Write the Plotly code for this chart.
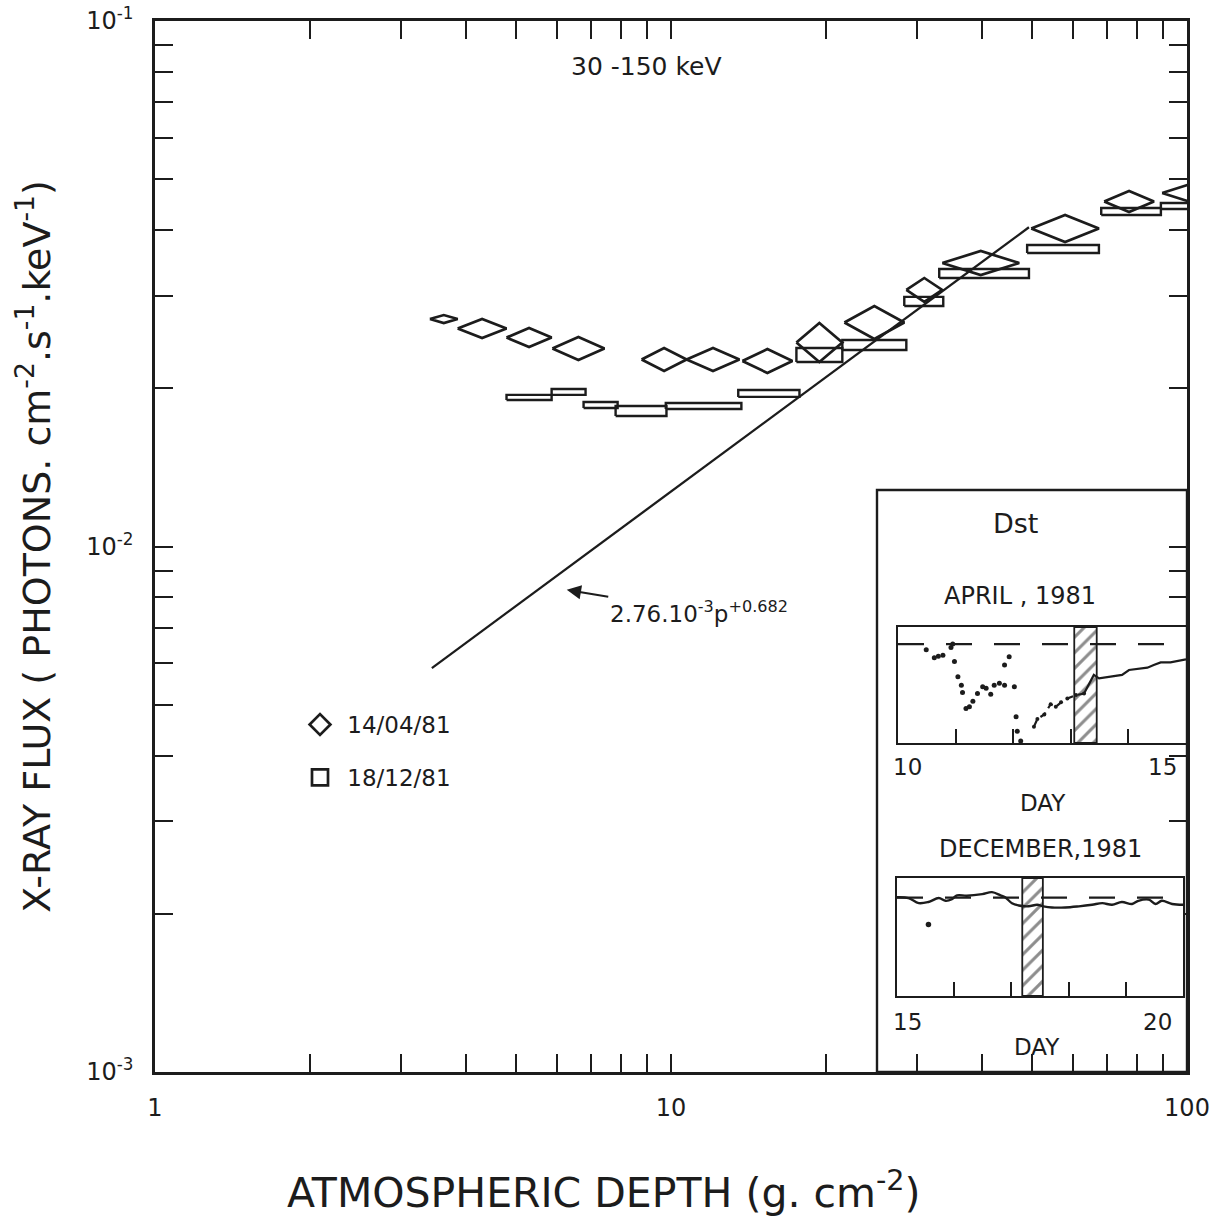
import math
import plotly.graph_objects as go

# ---------------- data ----------------
# 14/04/81 flight : depth bins (g cm-2) and flux envelope (photons cm-2 s-1 keV-1)
apr_depth_lo = [3.41, 3.86, 4.80, 5.89, 8.77, 10.72, 13.75, 17.50, 21.68, 28.58, 33.55, 49.9, 69.1, 89.5]
apr_depth_hi = [3.86, 4.80, 5.87, 7.43, 10.72, 13.57, 17.19, 21.48, 28.32, 33.55, 47.3, 67.5, 86.3, 112.0]
apr_flux_hi = [0.02757, 0.02710, 0.02605, 0.02504, 0.02386, 0.02386, 0.02375, 0.02662, 0.02869, 0.03243, 0.03650, 0.04274, 0.04747, 0.04873]
apr_flux_lo = [0.02662, 0.02493, 0.02396, 0.02264, 0.02158, 0.02158, 0.02139, 0.02245, 0.02482, 0.02920, 0.03286, 0.03798, 0.04330, 0.04545]

# 18/12/81 flight
dec_depth_lo = [4.80, 5.87, 6.77, 7.81, 9.77, 13.5, 17.50, 21.48, 28.32, 33.1, 49.0, 68.2, 89.0]
dec_depth_hi = [5.87, 6.83, 7.88, 9.80, 13.69, 17.74, 21.48, 28.58, 33.7, 49.4, 67.5, 89.0, 112.0]
dec_flux_hi = [0.01943, 0.01994, 0.01884, 0.01851, 0.01875, 0.01985, 0.02386, 0.02471, 0.02985, 0.03374, 0.03747, 0.04406, 0.04505]
dec_flux_lo = [0.01900, 0.01943, 0.01835, 0.01771, 0.01827, 0.01926, 0.02245, 0.02365, 0.02869, 0.03243, 0.03618, 0.04274, 0.04387]

# fitted power law 2.76e-3 p^0.682 (end points as drawn)
fit_depth = [3.44, 49.4]
fit_flux = [5.87e-3, 0.0405]

# Dst, April 1981 (day of month, nT)
apr_main_day = [10.49, 10.63, 10.70, 10.78, 10.92, 10.95, 10.98, 11.04, 11.10, 11.12, 11.18, 11.24, 11.30, 11.38,
                11.47, 11.53, 11.61, 11.67, 11.76, 11.85, 11.85, 11.93, 12.02, 12.05, 12.07, 12.13, 12.19, 12.22,
                12.24, 12.27]
apr_main_dst = [-15, -36, -32, -29, -9, 0, -46, -86, -108, -127, -169, -165, -150, -130,
                -112, -116, -132, -108, -103, -108, -55, -33, -112, -191, -229, -255, -283, -309,
                -340, -265]
apr_rec1_day = [12.36, 12.42, 12.54, 12.65, 12.74, 12.83, 12.94, 13.09, 13.23]
apr_rec1_dst = [-217, -197, -185, -158, -165, -153, -143, -134, -130]
apr_rec2_day = [13.23, 13.32, 13.40, 13.49, 13.69, 13.89, 14.01, 14.15, 14.33, 14.44, 14.56, 14.73, 14.93, 15.0]
apr_rec2_dst = [-130, -103, -81, -90, -86, -81, -68, -66, -62, -55, -48, -48, -42, -40]
apr_band = [13.06, 13.45]
apr_range = [-260, 45]

# Dst, December 1981
dec_day = [15.0, 15.2, 15.38, 15.55, 15.73, 15.85, 15.96, 16.05, 16.22, 16.49, 16.66, 16.81, 16.89, 17.01,
           17.13, 17.3, 17.45, 17.56, 17.71, 17.94, 18.18, 18.41, 18.59, 18.76, 18.93, 19.11, 19.22, 19.4,
           19.52, 19.63, 19.81, 20.0]
dec_dst = [1, -1, -14, -11, -1, -8, -4, 6, 5, 9, 14, 6, 1, -14,
           -20, -22, -18, -22, -25, -25, -22, -18, -14, -18, -11, -16, -8, -5,
           -16, -8, -16, -18]
dec_spike_day = [15.55]
dec_spike_dst = [-68]
dec_band = [17.19, 17.55]
dec_range = [-250, 50]

x_tickvals = [1, 10, 100]
x_ticktext = ["1", "10", "100"]
y_tickvals = [1e-3, 1e-2, 1e-1]
y_ticktext = ["10<sup>-3</sup>", "10<sup>-2</sup>", "10<sup>-1</sup>"]

# ---------------- figure ----------------
INK = "#1c1c1c"
FONT = "DejaVu Sans"
W, H = 1225, 1220
PL, PR, PT, PB = 155, 1187, 21, 1072      # plot box in page pixels
L, T = PL, PT
R, B = W - PR, H - PB
PW, PH = PR - PL, PB - PT


def px_x(p):
    return (p - PL) / PW


def px_y(p):
    return (PB - p) / PH


def diamonds(lo, hi, flo, fhi):
    xs, ys = [], []
    for a, b, c, d in zip(lo, hi, flo, fhi):
        m = math.sqrt(a * b)
        cy = math.sqrt(c * d)
        xs += [a, m, b, m, a, None]
        ys += [cy, d, cy, c, cy, None]
    return xs, ys


def boxes(lo, hi, flo, fhi):
    xs, ys = [], []
    for a, b, c, d in zip(lo, hi, flo, fhi):
        xs += [a, b, b, a, a, None]
        ys += [c, c, d, d, c, None]
    return xs, ys


fig = go.Figure()

dx, dy = diamonds(apr_depth_lo, apr_depth_hi, apr_flux_lo, apr_flux_hi)
fig.add_trace(go.Scatter(x=dx, y=dy, mode="lines", line=dict(color=INK, width=2.7),
                         showlegend=False, hoverinfo="skip"))
bx, by = boxes(dec_depth_lo, dec_depth_hi, dec_flux_lo, dec_flux_hi)
fig.add_trace(go.Scatter(x=bx, y=by, mode="lines", line=dict(color=INK, width=2.4),
                         showlegend=False, hoverinfo="skip"))
fig.add_trace(go.Scatter(x=fit_depth, y=fit_flux, mode="lines", line=dict(color=INK, width=2.3),
                         showlegend=False))

# legend entries
fig.add_trace(go.Scatter(x=[None], y=[None], mode="markers", name="\u00a014/04/81", legendgroup="a",
                         marker=dict(symbol="diamond-open", size=16, color=INK, line=dict(width=2.7, color=INK))))
fig.add_trace(go.Scatter(x=[None], y=[None], mode="markers", name="\u00a018/12/81", legendgroup="b",
                         marker=dict(symbol="square-open", size=16, color=INK, line=dict(width=2.7, color=INK))))


def band_trace(band, yr, xa, ya):
    return go.Scatter(x=[band[0], band[1], band[1], band[0], band[0]],
                      y=[yr[0], yr[0], yr[1], yr[1], yr[0]],
                      xaxis=xa, yaxis=ya, mode="lines", fill="toself",
                      fillcolor="white",
                      fillpattern=dict(shape="/", fgcolor=INK, bgcolor="white", size=11, solidity=0.28),
                      line=dict(color=INK, width=1.8), showlegend=False, hoverinfo="skip")


# April panel
fig.add_trace(band_trace(apr_band, apr_range, "x2", "y2"))
fig.add_trace(go.Scatter(x=[10, 15], y=[0, 0], xaxis="x2", yaxis="y2", mode="lines",
                         line=dict(color=INK, width=2.2, dash="26px,22px"), showlegend=False))
fig.add_trace(go.Scatter(x=apr_main_day, y=apr_main_dst, xaxis="x2", yaxis="y2", mode="markers",
                         marker=dict(color=INK, size=5), cliponaxis=False, showlegend=False))
fig.add_trace(go.Scatter(x=apr_rec1_day, y=apr_rec1_dst, xaxis="x2", yaxis="y2", mode="lines+markers",
                         line=dict(color=INK, width=2.2, dash="7px,5px"), marker=dict(color=INK, size=4),
                         showlegend=False))
fig.add_trace(go.Scatter(x=apr_rec2_day, y=apr_rec2_dst, xaxis="x2", yaxis="y2", mode="lines",
                         line=dict(color=INK, width=2.2), showlegend=False))

# December panel
fig.add_trace(band_trace(dec_band, dec_range, "x3", "y3"))
fig.add_trace(go.Scatter(x=[15, 20], y=[0, 0], xaxis="x3", yaxis="y3", mode="lines",
                         line=dict(color=INK, width=2.2, dash="26px,22px"), showlegend=False))
fig.add_trace(go.Scatter(x=dec_day, y=dec_dst, xaxis="x3", yaxis="y3", mode="lines",
                         line=dict(color=INK, width=2.4, shape="spline"), showlegend=False))
fig.add_trace(go.Scatter(x=dec_spike_day, y=dec_spike_dst, xaxis="x3", yaxis="y3", mode="markers",
                         marker=dict(color=INK, size=5.5), showlegend=False))

minor_x = [2, 3, 4, 5, 6, 7, 8, 9, 20, 30, 40, 50, 60, 70, 80, 90]
minor_y = [2e-3, 3e-3, 4e-3, 5e-3, 6e-3, 7e-3, 8e-3, 9e-3, 2e-2, 3e-2, 4e-2, 5e-2, 6e-2, 7e-2, 8e-2, 9e-2]

axis_common = dict(showgrid=False, zeroline=False, showline=True, linecolor=INK, linewidth=2.5,
                   ticks="inside", ticklen=18, tickwidth=2.2, tickcolor=INK, mirror="allticks",
                   ticklabeloverflow="allow", automargin=False,
                   tickfont=dict(family=FONT, size=24, color=INK))

panel_x = dict(showgrid=False, zeroline=False, showline=True, mirror=True, linecolor=INK, linewidth=2.2,
               ticks="inside", ticklen=14, tickwidth=2.2, tickcolor=INK, tickmode="array",
               showticklabels=False, automargin=False)
panel_y = dict(showgrid=False, zeroline=False, showline=True, mirror=True, linecolor=INK, linewidth=2.2,
               ticks="", showticklabels=False, automargin=False)

fig.update_layout(
    width=W, height=H,
    margin=dict(l=L, r=R, t=T, b=B, autoexpand=False),
    paper_bgcolor="white", plot_bgcolor="white",
    font=dict(family=FONT, color=INK),
    xaxis=dict(type="log", range=[0, 2], tickmode="array", tickvals=x_tickvals, ticktext=x_ticktext,
               ticklabelstandoff=12,
               minor=dict(tickmode="array", tickvals=minor_x, ticks="inside", ticklen=18, tickwidth=2.2,
                          tickcolor=INK),
               **axis_common),
    yaxis=dict(type="log", range=[-3, -1], tickmode="array", tickvals=y_tickvals, ticktext=y_ticktext,
               ticklabelstandoff=14,
               title=dict(text="X-RAY FLUX ( PHOTONS. cm<sup>-2</sup>.s<sup>-1</sup>.keV<sup>-1</sup>)",
                          font=dict(family=FONT, size=38, color=INK), standoff=24),
               minor=dict(tickmode="array", tickvals=minor_y, ticks="inside", ticklen=18, tickwidth=2.2,
                          tickcolor=INK),
               **axis_common),
    xaxis2=dict(domain=[px_x(898), px_x(1186)], range=[10, 15], anchor="y2", tickvals=[11, 12, 13, 14],
                **panel_x),
    yaxis2=dict(domain=[px_y(743), px_y(627)], range=apr_range, anchor="x2", **panel_y),
    xaxis3=dict(domain=[px_x(897), px_x(1183)], range=[15, 20], anchor="y3", tickvals=[16, 17, 18, 19],
                **panel_x),
    yaxis3=dict(domain=[px_y(996), px_y(878)], range=dec_range, anchor="x3", **panel_y),
    legend=dict(x=px_x(300), y=px_y(703), xanchor="left", yanchor="top", bgcolor="rgba(0,0,0,0)",
                font=dict(family=FONT, size=23, color=INK), tracegroupgap=20, itemsizing="trace"),
    showlegend=True,
)

# inset frame
fig.add_shape(type="rect", xref="paper", yref="paper", x0=px_x(877), x1=1.0, y0=0, y1=px_y(490),
              line=dict(color=INK, width=2.4), layer="above")

texts = [
    ("30 -150 keV", 646, 66, 25),
    ("Dst", 1015, 523, 27),
    ("APRIL , 1981", 1020, 596, 24),
    ("10", 907, 767, 23),
    ("15", 1162, 767, 23),
    ("DAY", 1043, 803, 23),
    ("DECEMBER,1981", 1040, 849, 24),
    ("15", 907, 1022, 23),
    ("20", 1157, 1022, 23),
    ("DAY", 1037, 1047, 23),
]
for t, x, y, s in texts:
    fig.add_annotation(text=t, xref="paper", yref="paper", x=px_x(x), y=px_y(y), showarrow=False,
                       xanchor="center", yanchor="middle", font=dict(family=FONT, size=s, color=INK))

# x-axis title
fig.add_annotation(text="ATMOSPHERIC DEPTH (g. cm<sup>-2</sup>)", xref="paper", yref="paper",
                   x=px_x(604), y=px_y(1190), showarrow=False, xanchor="center", yanchor="middle",
                   font=dict(family=FONT, size=41, color=INK))

# power-law label with arrow
fig.add_annotation(text="2.76.10<sup>-3</sup>p<sup>+0.682</sup>", xref="x", yref="y",
                   x=math.log10(6.28), y=math.log10(8.27e-3), ax=132, ay=22,
                   showarrow=True, arrowhead=2, arrowsize=1.3, arrowwidth=2.2, arrowcolor=INK,
                   font=dict(family=FONT, size=23, color=INK))

# let the figure start at the page corner (no default body margin)
fig.write_html("out.html", config={"displayModeBar": False},
               post_script="document.body.style.margin='0px';document.body.style.overflow='hidden';")
